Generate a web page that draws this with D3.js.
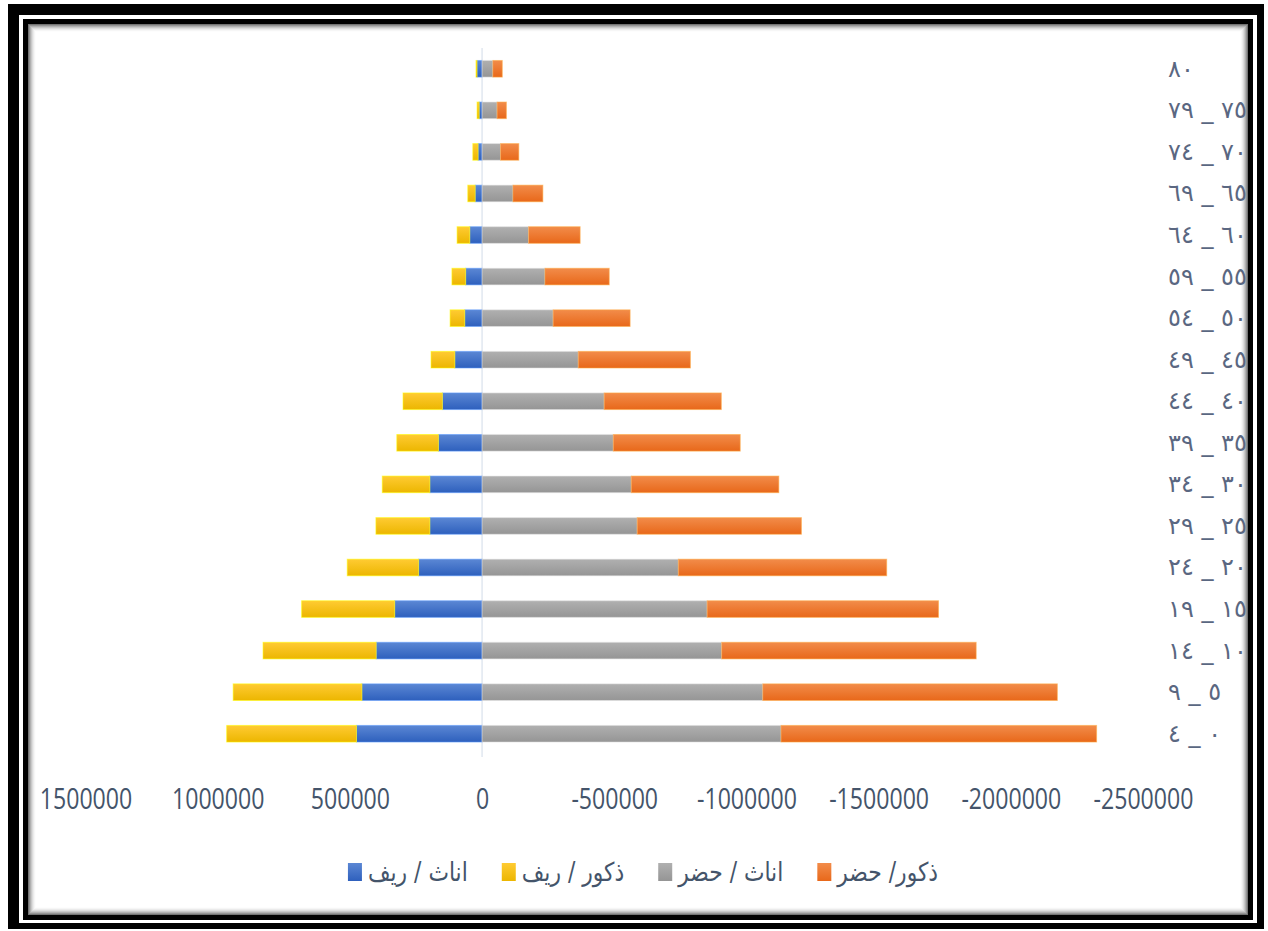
<!DOCTYPE html>
<html><head><meta charset="utf-8">
<script src="https://cdn.jsdelivr.net/npm/d3@7"></script>
<style>
html,body{margin:0;padding:0;background:#fff;}
svg{display:block;}
</style></head><body>
<svg id="chart" width="1268" height="931"></svg>
<script>
// ---------- data ----------
const ageGroups = ["٠ _ ٤","٥ _ ٩","١٠ _ ١٤","١٥ _ ١٩","٢٠ _ ٢٤","٢٥ _ ٢٩","٣٠ _ ٣٤","٣٥ _ ٣٩","٤٠ _ ٤٤","٤٥ _ ٤٩","٥٠ _ ٥٤","٥٥ _ ٥٩","٦٠ _ ٦٤","٦٥ _ ٦٩","٧٠ _ ٧٤","٧٥ _ ٧٩","٨٠"];
// urban (plotted as negative values, to the right on the reversed axis)
const urbanFemale = [-1131000,-1062000,-906500,-851500,-742500,-587000,-564500,-496500,-462000,-364000,-269000,-238000,-176000,-117000,-70000,-57000,-41000];
const urbanMale   = [-1193500,-1114000,-962500,-875000,-788000,-621000,-558000,-480000,-443000,-424000,-291000,-243000,-195000,-113000,-69000,-35000,-35500];
// rural (positive values, to the left)
const ruralFemale = [475000,454500,400500,330500,240000,197500,197500,165000,150000,103000,65500,62000,46500,26000,15000,11000,19000];
const ruralMale   = [491000,487000,428000,352000,270000,204000,180000,157500,149000,90000,55500,52000,48000,28000,20000,8000,4000];
const tickValues = [1500000,1000000,500000,0,-500000,-1000000,-1500000,-2000000,-2500000];
const seriesKeys = ["ruralFemale","ruralMale","urbanFemale","urbanMale"];
const seriesLabels = ["اناث / ريف","ذكور / ريف","اناث / حضر","ذكور/ حضر"];
const seriesColors = ["#4472C4","#FFC000","#A5A5A5","#ED7D31"];

// ---------- layout ----------
const svg = d3.select("#chart");
const textColor = "#44546A";

// frame
svg.append("rect").attr("x",8).attr("y",4).attr("width",1256).attr("height",925).attr("fill","#000");
svg.append("rect").attr("x",19).attr("y",15).attr("width",1238).attr("height",908).attr("fill","#fff");
svg.append("rect").attr("x",23).attr("y",19).attr("width",1230).attr("height",901).attr("fill","#000");
svg.append("rect").attr("x",28).attr("y",24).attr("width",1220).attr("height",891).attr("fill","#fff");
for (let i = 0; i < 8; i++) {
  const a = 0.55 * Math.pow(1 - i/8, 2);
  svg.append("rect")
    .attr("x",28+i+0.5).attr("y",24+i+0.5)
    .attr("width",1220-2*i-1).attr("height",891-2*i-1)
    .attr("fill","none").attr("stroke",`rgba(0,0,0,${a})`).attr("stroke-width",1);
}

// gradients
const defs = svg.append("defs");
const gradStops = {
  "#4472C4": ["#5B87D4","#2E60BD"],
  "#FFC000": ["#FFCB33","#ECB600"],
  "#A5A5A5": ["#B0B0B0","#959595"],
  "#ED7D31": ["#F28C4A","#E8681A"]
};
seriesColors.forEach((c,i) => {
  const g = defs.append("linearGradient").attr("id","g"+i).attr("x1",0).attr("y1",0).attr("x2",0).attr("y2",1);
  g.append("stop").attr("offset","0%").attr("stop-color",gradStops[c][0]);
  g.append("stop").attr("offset","100%").attr("stop-color",gradStops[c][1]);
});

// scales
const x = d3.scaleLinear().domain([1500000,-2500000]).range([85.5,1143]);
const y = d3.scaleBand().domain(ageGroups.slice().reverse()).range([48,754.5]).paddingInner(0.6).paddingOuter(0.3);

const table = ageGroups.map((a,i) => ({
  age: a,
  ruralFemale: ruralFemale[i],
  ruralMale: ruralMale[i],
  urbanFemale: urbanFemale[i],
  urbanMale: urbanMale[i]
}));
const stacked = d3.stack().keys(seriesKeys).offset(d3.stackOffsetDiverging)(table);

// axis line at zero
svg.append("line").attr("x1",x(0)).attr("x2",x(0)).attr("y1",48).attr("y2",757)
  .attr("stroke","#D9E1EC").attr("stroke-width",1.2);

// bars
stacked.forEach((s,i) => {
  svg.append("g").selectAll("rect").data(s).join("rect")
    .attr("x", d => Math.min(x(d[0]),x(d[1])))
    .attr("width", d => Math.abs(x(d[1])-x(d[0])))
    .attr("y", d => y(d.data.age))
    .attr("height", y.bandwidth())
    .attr("fill", `url(#g${i})`)
    .attr("stroke", d3.color(seriesColors[i]).brighter(0.9))
    .attr("stroke-opacity",0.55)
    .attr("stroke-width",1);
});

// x axis (tick labels only)
const xAxis = d3.axisBottom(x).tickValues(tickValues).tickSize(0).tickPadding(0).tickFormat(d => String(d));
const gx = svg.append("g").attr("transform","translate(0,809)").call(xAxis);
gx.select(".domain").remove();
gx.selectAll("text")
  .attr("y",0).attr("dy",0)
  .attr("transform","scale(0.77,1)")
  .attr("font-family","'Open Sans', 'Liberation Sans', sans-serif")
  .attr("font-size",30)
  .attr("fill",textColor);

// y labels (age groups) on the right
const gy = svg.append("g");
gy.selectAll("text").data(ageGroups).join("text")
  .attr("transform", d => `translate(1168,${y(d)+y.bandwidth()/2+8}) scale(1.0,1)`)
  .attr("font-family","'DejaVu Sans', sans-serif")
  .attr("font-size",24)
  .attr("fill","#5a6781")
  .text(d => "\u202B" + d + "\u202C");

// legend
const lg = svg.append("g");
const items = seriesLabels.map((l,i) => {
  const g = lg.append("g");
  g.append("rect").attr("x",0).attr("y",-9).attr("width",14).attr("height",18).attr("fill",`url(#g${i})`);
  const t = g.append("text")
    .attr("font-family","'DejaVu Sans', sans-serif")
    .attr("font-size",26)
    .attr("fill",textColor)
    .text("\u202B" + l + "\u202C");
  const sx = 0.84;
  const w = t.node().getComputedTextLength() * sx;
  t.attr("transform",`translate(20,9) scale(${sx},1)`);
  return {g, w: 20 + w};
});
const gap = 34;
const total = d3.sum(items, d => d.w) + gap*(items.length-1);
let cx = 643 - total/2;
items.forEach(it => { it.g.attr("transform",`translate(${cx},872)`); cx += it.w + gap; });
</script>
</body></html>
